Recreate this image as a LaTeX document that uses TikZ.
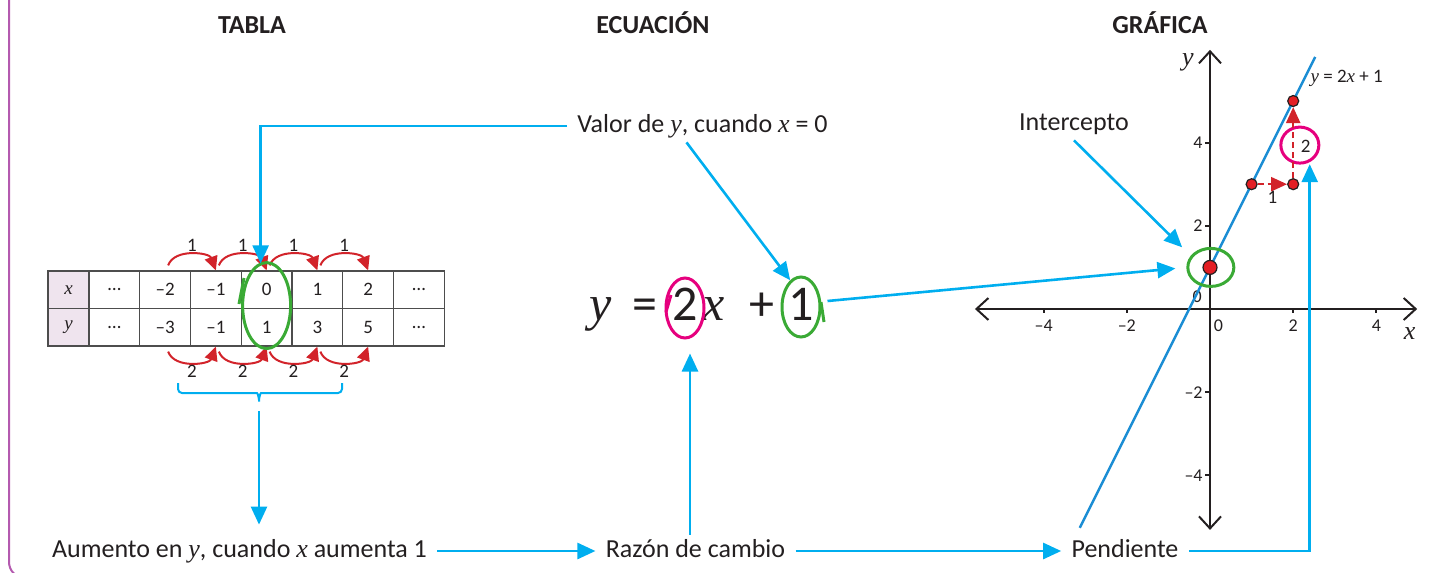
\documentclass[tikz,border=0pt]{standalone}
\usepackage{fontspec}
\setmainfont{Carlito}
\newfontfamily\varfont{Liberation Serif}
\newcommand{\itvar}[1]{{\varfont\itshape #1}}
\usetikzlibrary{arrows.meta, shapes.geometric}
\definecolor{link-blue}{HTML}{00AEEF}
\definecolor{plot-blue}{HTML}{1B8DD4}
\definecolor{step-red}{HTML}{D2232A}
\definecolor{dot-red}{HTML}{E31E24}
\definecolor{ring-green}{HTML}{3AAA35}
\definecolor{ring-magenta}{HTML}{E6007E}
\definecolor{frame-purple}{HTML}{B45AAF}
\definecolor{head-bg}{HTML}{EFE4EE}
\definecolor{grid-gray}{HTML}{4D4D4D}
\definecolor{ink}{HTML}{231F20}

\begin{document}
\begin{tikzpicture}[x=0.5pt, y=0.5pt,
    every node/.style={text=ink},
    label text/.style={font=\fontsize{13}{15}\selectfont, inner xsep=5pt,
      inner ysep=2pt, text height=9pt, text depth=3pt, anchor=base},
    title text/.style={font=\fontsize{13}{15}\selectfont\bfseries, anchor=base},
    cell/.style={draw=grid-gray, line width=0.6pt, minimum width=25.375pt,
      minimum height=18.75pt, inner sep=0pt, font=\fontsize{9.5}{11}\selectfont},
    head cell/.style={cell, fill=head-bg, minimum width=20.5pt},
    link/.style={draw=link-blue, line width=1.3pt, -{Triangle[length=9pt,width=8pt]}},
    step arc/.style={draw=step-red, line width=1pt, -{Triangle[length=7pt,width=6.5pt]}},
    step dash/.style={draw=step-red, line width=1.2pt, dash pattern=on 3pt off 2pt,
      -{Triangle[length=8pt,width=7pt]}},
    step num/.style={font=\fontsize{9.5}{11}\selectfont, inner sep=1pt},
    ring/.style={ellipse, draw=#1, line width=1.5pt, inner sep=0pt},
    eq part/.style={font=\fontsize{25}{30}\selectfont, anchor=base, inner sep=0pt},
    axis line/.style={draw=ink, line width=1pt,
      {Straight Barb[length=6pt,width=11pt]}-{Straight Barb[length=6pt,width=11pt]}},
    axis tick/.style={draw=ink, line width=1pt},
    axis num/.style={font=\fontsize{9}{11}\selectfont, inner sep=1pt},
    axis name/.style={font=\fontsize{13}{15}\selectfont, inner sep=1pt},
    plot line/.style={draw=plot-blue, line width=1.2pt},
    dot/.style={circle, draw=ink, fill=dot-red, line width=0.6pt, inner sep=0pt,
      minimum size=5.5pt},
    big dot/.style={dot, minimum size=7pt}]
  \useasboundingbox (0,0) rectangle (1431,-573);

  % page frame
  \draw[frame-purple, line width=1pt, rounded corners=8pt] (9,5) -- (9,-578) -- (80,-578);

  % titles
  \node[title text] (tabla) at (252,-33) {TABLA};
  \node[title text] (ecuacion) at (653,-33) {ECUACIÓN};
  \node[title text] (grafica) at (1160,-33) {GRÁFICA};

  % table
  \node[head cell] (tx0) at (68.5,-289.75) {\itvar{x}};
  \node[head cell] (ty0) at (68.5,-327.25) {\itvar{y}};
  \foreach \xv/\yv [count=\i] in {…/…, \textendash2/\textendash3, \textendash1/\textendash1,
      0/1, 1/3, 2/5, …/…} {
    \node[cell] (tx\i) at ({89+50.75*(\i-0.5)},-289.75) {\xv};
    \node[cell] (ty\i) at ({89+50.75*(\i-0.5)},-327.25) {\yv};
  }
  \foreach \a/\b in {2/3,3/4,4/5,5/6} {
    \draw[step arc] ([xshift=1.5pt,yshift=2.5pt]tx\a.north) to[out=70,in=110]
      node[step num, above] {1} (tx\b.north);
    \draw[step arc] ([xshift=1.5pt,yshift=-2.5pt]ty\a.south) to[out=-70,in=-110]
      node[step num, below] {2} (ty\b.south);
  }
  \node[ring=ring-green, minimum width=24pt, minimum height=43pt] (tablering)
    at ([yshift=1.75pt]tx4.south) {};
  \draw[ring-green, line width=1.5pt] (244,-278) -- (239,-304);

  % brace under the table
  \draw[link-blue, line width=1pt, rounded corners=2pt] (178,-383) |- (253,-393)
    to[out=0,in=90] (259,-404) to[out=90,in=180] (265,-393) -| (342,-383);
  \coordinate (bracetip) at (259,-404);

  % equation
  \node[eq part] (eqy) at (601,-320) {\itvar{y}};
  \node[eq part] (eqeq) at (645,-320) {=};
  \node[eq part] (eqtwo) at (685,-320) {2};
  \node[eq part] (eqx) at (714,-320) {\itvar{x}};
  \node[eq part] (eqplus) at (762,-320) {+};
  \node[eq part] (eqone) at (801,-320) {1};
  \node[ring=ring-magenta, minimum width=19pt, minimum height=30pt] (tworing)
    at ([yshift=6pt]eqtwo.base) {};
  \node[ring=ring-green, minimum width=19pt, minimum height=30pt] (onering)
    at ([yshift=6.5pt]eqone.base) {};
  \draw[ring-magenta, line width=1.5pt] (671,-295) -- (666,-312);
  \draw[ring-green, line width=1.5pt] (821,-302) -- (824,-322);

  % texts
  \node[label text] (valor) at (702.5,-132) {Valor de \itvar{y}, cuando \itvar{x} = 0};
  \node[label text] (intercepto) at (1074,-130) {Intercepto};
  \node[label text] (aumento) at (239.5,-557) {Aumento en \itvar{y}, cuando \itvar{x} aumenta 1};
  \node[label text] (razon) at (695.5,-557) {Razón de cambio};
  \node[label text] (pendiente) at (1125,-557) {Pendiente};

  % graph
  \begin{scope}[shift={(605pt,-154.5pt)}, x=20.8pt, y=20.8pt]
    \draw[axis line] (-5.65,0) -- (4.98,0);
    \draw[axis line] (0,-5.31) -- (0,6.23);
    \foreach \t/\s [count=\k] in {-4/\textendash4,-2/\textendash2,2/2,4/4} {
      \draw[axis tick] (\t,0) -- (\t,-0.1);
      \draw[axis tick] (0,\t) -- (-0.12,\t);
      \node[axis num] (xnum\k) at (\t,-0.4) {\s};
      \node[axis num, anchor=east] (ynum\k) at (-0.12,\t) {\s};
    }
    \node[axis num] (xzero) at (0.2,-0.4) {0};
    \node[axis num] (yzero) at (-0.31,0.29) {0};
    \node[axis name] (xname) at (4.8,-0.58) {\itvar{x}};
    \node[axis name] (yname) at (-0.53,5.94) {\itvar{y}};
    \draw[plot line] (-3.13,-5.26) -- (2.53,6.06);
    \node[step num, anchor=west] (eqlabel) at (2.36,5.55) {\itvar{y} = 2\itvar{x} + 1};
    \node[ring=ring-green, minimum width=23pt, minimum height=19pt] (icptring) at (0.02,1) {};
    \node[ring=ring-magenta, minimum width=19pt, minimum height=18pt] (slopering) at (2.16,3.94) {};
    \node[big dot] (p01) at (0,1) {};
    \node[dot] (p13) at (1,3) {};
    \node[dot] (p23) at (2,3) {};
    \node[dot] (p25) at (2,5) {};
    \draw[step dash] (p13) -- node[step num, below=2pt] (runnum) {1} (p23);
    \draw[step dash] (p23) -- (p25);
    \node[step num] (risenum) at (2.3,3.92) {2};
  \end{scope}

  % connectors
  \draw[link] (valor.west) -| ([xshift=-3pt,yshift=3.5pt]tx4.north);
  \draw[link] ([xshift=-8pt]valor.south) -- (onering.112);
  \draw[link, shorten >=5.5pt] ([xshift=3pt,yshift=3pt]onering.east) -- (icptring.west);
  \draw[link, shorten >=6pt] (intercepto.south) -- (icptring.150);
  \draw[link, shorten <=3.5pt, shorten >=5pt] (bracetip) -- (bracetip |- aumento.north);
  \draw[link] (aumento.east) -- (razon.west);
  \draw[link] (razon.east) -- (pendiente.west);
  \draw[link, shorten >=7pt] ([xshift=2.5pt]tworing.south |- razon.north)
    -- ([xshift=2.5pt]tworing.south);
  \draw[link, shorten >=1pt] (pendiente.east) -| (slopering.-60);
\end{tikzpicture}
\end{document}
